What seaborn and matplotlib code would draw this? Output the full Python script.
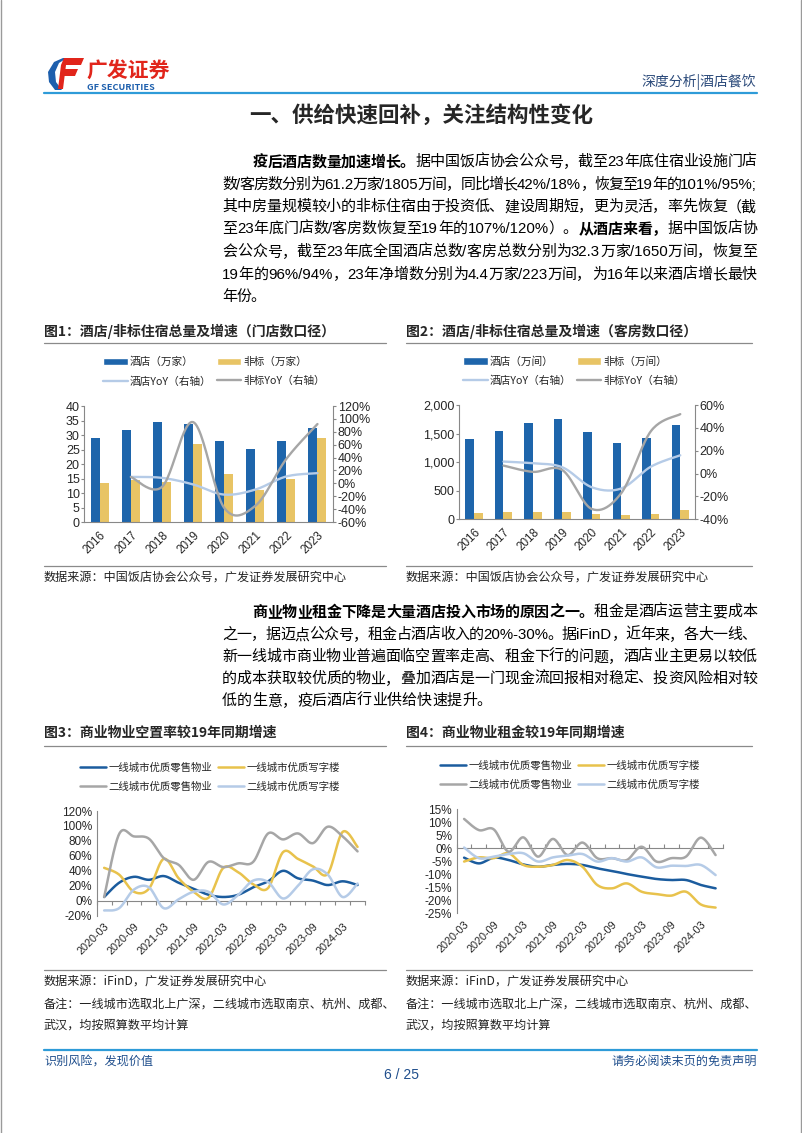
import numpy as np
import pandas as pd
import matplotlib
matplotlib.use('Agg')
import matplotlib.pyplot as plt
import seaborn as sns
from matplotlib.patches import Patch, Polygon
from matplotlib.lines import Line2D
from matplotlib.ticker import FuncFormatter
from matplotlib.font_manager import findfont, get_font, FontProperties, fontManager

# ---------------- data ----------------
years = ['2016', '2017', '2018', '2019', '2020', '2021', '2022', '2023']
hotel_stores = [28.8, 31.7, 34.4, 33.8, 27.9, 25.2, 27.9, 32.3]
nonstd_stores = [13.3, 14.6, 13.8, 26.9, 16.7, 10.9, 15.0, 28.8]
hotel_store_yoy = [np.nan, 10.0, 8.5, -1.7, -17.5, -9.7, 10.7, 15.8]
nonstd_store_yoy = [np.nan, 9.8, -5.5, 95.0, -38.0, -35.0, 38.0, 92.0]

hotel_rooms = [1400, 1540, 1680, 1750, 1530, 1340, 1420, 1650]
nonstd_rooms = [110, 120, 125, 125, 85, 70, 100, 155]
hotel_room_yoy = [np.nan, 10.5, 9.0, 5.5, -12.0, -13.0, 6.0, 16.0]
nonstd_room_yoy = [np.nan, 7.0, 1.5, 3.0, -31.0, -17.0, 37.0, 52.0]

quarters = ['2020-03', '2020-06', '2020-09', '2020-12', '2021-03', '2021-06', '2021-09', '2021-12',
            '2022-03', '2022-06', '2022-09', '2022-12', '2023-03', '2023-06', '2023-09', '2023-12',
            '2024-03', '2024-06']
series_names = ['一线城市优质零售物业', '一线城市优质写字楼', '二线城市优质零售物业', '二线城市优质写字楼']

t1_retail_vacancy = [5, 24, 32, 28, 33, 24, 16, 8, 5, 8, 18, 26, 40, 30, 27, 21, 26, 21]
t1_office_vacancy = [44, 35, 12, 16, 56, 30, 12, 4, 44, 38, 22, 17, 65, 56, 46, 36, 92, 72]
t2_retail_vacancy = [5, 89, 86, 83, 57, 48, 28, 52, 45, 50, 52, 90, 82, 90, 77, 99, 86, 66]
t2_office_vacancy = [-13, -10, 15, 18, -10, 2, 12, 12, -5, 8, 27, 25, 3, 20, 42, 35, 5, 23]

t1_retail_rent = [-3.6, -5.8, -3.6, -4.5, -6.2, -7.1, -6.4, -6.0, -6.4, -7.7, -8.7, -9.9, -10.9, -11.8, -12.2, -12.2, -14.1, -15.4]
t1_office_rent = [-5.1, -3.5, -3.8, -1.9, -6.4, -7.1, -6.4, -4.5, -7.1, -14.1, -15.4, -13.5, -16.7, -17.6, -18.2, -16.7, -21.6, -22.8]
t2_retail_rent = [11.3, 7.0, 7.3, -1.3, 4.2, -3.2, 3.6, -2.6, 2.2, -3.8, -3.8, -4.5, 0.6, -5.1, -3.8, -3.2, 4.1, -2.6]
t2_office_rent = [0.3, -3.8, -3.2, -2.2, -1.9, -5.1, -3.5, -2.8, -2.2, -5.1, -3.8, -5.1, -3.5, -7.3, -6.7, -6.8, -6.4, -10.3]

# ---------------- style ----------------
sns.set_theme(style='white')
CJK = ['Noto Sans CJK SC', 'DejaVu Sans']
plt.rcParams['font.family'] = CJK
plt.rcParams['axes.unicode_minus'] = False

_names = {f.name for f in fontManager.ttflist}
NARROW = 'Liberation Sans Narrow' if 'Liberation Sans Narrow' in _names else 'Liberation Sans'
NUMF = 'Liberation Sans'

BLUE = '#1E65AB'
YELLOW = '#E8C465'
LBLUE = '#B5CBE7'
GRAY = '#A6A6A6'
DBLUE = '#1B5C9E'
LYEL = '#E8C24C'
AXC = '#888888'

W, H = 802, 1133
fig = plt.figure(figsize=(W / 100, H / 100), dpi=100)
bg = fig.add_axes([0, 0, 1, 1])
bg.set_xlim(0, W)
bg.set_ylim(H, 0)
bg.axis('off')


def add_ax(x0, y0, x1, y1):
    return fig.add_axes([x0 / W, 1 - y1 / H, (x1 - x0) / W, (y1 - y0) / H])


OPEN = '（“《'
CLOSE = '，。、；：）”》！？'


def tokenize(s):
    toks = []
    i = 0
    pending = ''
    while i < len(s):
        ch = s[i]
        if ord(ch) < 128:
            j = i
            while j < len(s) and ord(s[j]) < 128:
                j += 1
            if pending:
                toks.append([pending, False])
                pending = ''
            toks.append([s[i:j], True])
            i = j
            continue
        if ch in OPEN:
            pending += ch
        elif ch in CLOSE and toks and not toks[-1][1] and not pending:
            toks[-1][0] += ch
        else:
            toks.append([pending + ch, False])
            pending = ''
        i += 1
    if pending:
        toks.append([pending, False])
    return toks


def advance(s, family, size, bold):
    try:
        path = findfont(FontProperties(family=family, weight='bold' if bold else 'normal'))
        f = get_font(path)
        f.set_size(size, 100)
        return sum(f.load_char(ord(c)).linearHoriAdvance for c in s) / 65536.0
    except Exception:
        em = size * 100 / 72.0
        return sum(em if ord(c) > 127 else 0.5 * em for c in s)


def para_line(x0, x1, y, segs, size, justify=True):
    items = []
    for s, bold in segs:
        for tok, is_ascii in tokenize(s):
            fam = [NARROW] if is_ascii else CJK
            fam0 = NARROW if is_ascii else 'Noto Sans CJK SC'
            items.append((tok, fam, bold, advance(tok, fam0, size, bold)))
    total = sum(it[3] for it in items)
    gap = (x1 - x0 - total) / (len(items) - 1) if (justify and len(items) > 1) else 0.0
    x = x0
    for tok, fam, bold, adv in items:
        bg.text(x, y, tok, fontsize=size, fontweight='bold' if bold else 'normal',
                family=fam, ha='left', va='center', color='black')
        x += adv + gap


def smooth(x, y, n=24):
    x = np.asarray(x, float)
    y = np.asarray(y, float)
    m = ~np.isnan(y)
    P = np.column_stack([x[m], y[m]])
    out = []
    for i in range(len(P) - 1):
        p0 = P[i - 1] if i > 0 else P[i]
        p1, p2 = P[i], P[i + 1]
        p3 = P[i + 2] if i + 2 < len(P) else P[i + 1]
        c1 = p1 + (p2 - p0) / 6.0
        c2 = p2 - (p3 - p1) / 6.0
        t = np.linspace(0, 1, n, endpoint=(i == len(P) - 2))[:, None]
        out.append((1 - t) ** 3 * p1 + 3 * (1 - t) ** 2 * t * c1 + 3 * (1 - t) * t ** 2 * c2 + t ** 3 * p2)
    return np.vstack(out)


pct = FuncFormatter(lambda v, p: f'{v:.0f}%')

# ---------------- page header ----------------
bg.plot([0.5, 0.5], [0, H], color='#9A9A9A', lw=1)
bg.plot([W - 0.8, W - 0.8], [0, H], color='#9A9A9A', lw=1)
bg.add_patch(Polygon([(63, 58), (54, 62), (48, 72), (49, 82), (55, 90), (62, 90), (56, 82), (55, 72), (59, 63), (67, 58)],
                     closed=True, color='#1D5FAD', lw=0))
bg.add_patch(Polygon([(64, 58), (84, 58), (81, 65), (61, 65)], closed=True, color='#E1251B', lw=0))
bg.add_patch(Polygon([(62, 69), (78, 69), (75, 76), (60, 76)], closed=True, color='#E1251B', lw=0))
bg.add_patch(Polygon([(61, 65), (66, 65), (63, 89), (58, 89)], closed=True, color='#E1251B', lw=0))
bg.text(86, 71, '广发证券', fontsize=15, fontweight='bold', color='#E1251B', ha='left', va='center', family=CJK)
bg.text(87, 87.5, 'GF SECURITIES', fontsize=6.6, fontweight='bold', color='#1D5FAD', ha='left', va='center', family=CJK)
bg.text(756, 82, '深度分析|酒店餐饮', fontsize=10, color='#2B4A7A', ha='right', va='center', family=CJK)
bg.plot([44, 757], [92.5, 92.5], color='#2E9BD8', lw=1.6)

bg.text(421, 115, '一、供给快速回补，关注结构性变化', fontsize=15.5, fontweight='bold',
        ha='center', va='center', family=CJK)

# ---------------- paragraphs ----------------
PS = 10.8
RIGHT = 757
para1 = [
    (252.5, 162, [('疫后酒店数量加速增长。', True), ('据中国饭店协会公众号，截至23年底住宿业设施门店', False)], True),
    (222, 185, [('数/客房数分别为61.2万家/1805万间，同比增长42%/18%，恢复至19年的101%/95%;', False)], True),
    (222, 207, [('其中房量规模较小的非标住宿由于投资低、建设周期短，更为灵活，率先恢复（截', False)], True),
    (222, 229, [('至23年底门店数/客房数恢复至19年的107%/120%）。', False), ('从酒店来看，', True), ('据中国饭店协', False)], True),
    (222, 252, [('会公众号，截至23年底全国酒店总数/客房总数分别为32.3万家/1650万间，恢复至', False)], True),
    (222, 275, [('19年的96%/94%，23年净增数分别为4.4万家/223万间，为16年以来酒店增长最快', False)], True),
    (222, 297, [('年份。', False)], False),
]
para2 = [
    (252.5, 612, [('商业物业租金下降是大量酒店投入市场的原因之一。', True), ('租金是酒店运营主要成本', False)], True),
    (222, 635, [('之一，据迈点公众号，租金占酒店收入的20%-30%。据iFinD，近年来，各大一线、', False)], True),
    (222, 657, [('新一线城市商业物业普遍面临空置率走高、租金下行的问题，酒店业主更易以较低', False)], True),
    (222, 679, [('的成本获取较优质的物业，叠加酒店是一门现金流回报相对稳定、投资风险相对较', False)], True),
    (222, 701, [('低的生意，疫后酒店行业供给快速提升。', False)], False),
]
for x, y, segs, just in para1 + para2:
    para_line(x, RIGHT, y, segs, PS, justify=just)

# ---------------- chart titles / rules ----------------
TS = 10
bg.text(44, 331, '图1：酒店/非标住宿总量及增速（门店数口径）', fontsize=TS, fontweight='bold', va='center', family=CJK)
bg.text(406, 331, '图2：酒店/非标住宿总量及增速（客房数口径）', fontsize=TS, fontweight='bold', va='center', family=CJK)
bg.text(44, 733, '图3：商业物业空置率较19年同期增速', fontsize=TS, fontweight='bold', va='center', family=CJK)
bg.text(406, 733, '图4：商业物业租金较19年同期增速', fontsize=TS, fontweight='bold', va='center', family=CJK)
for y in (342.5, 745.5, 566, 970):
    bg.plot([44, 386], [y, y], color='#8A8A8A', lw=0.9)
    bg.plot([406, 752], [y, y], color='#8A8A8A', lw=0.9)

SS = 8.7
bg.text(44, 577, '数据来源：中国饭店协会公众号，广发证券发展研究中心', fontsize=SS, va='center', family=CJK, color='#222222')
bg.text(406, 577, '数据来源：中国饭店协会公众号，广发证券发展研究中心', fontsize=SS, va='center', family=CJK, color='#222222')
for x0 in (44, 406):
    bg.text(x0, 981, '数据来源：iFinD，广发证券发展研究中心', fontsize=SS, va='center', family=CJK, color='#222222')
    bg.text(x0, 1004, '备注：一线城市选取北上广深，二线城市选取南京、杭州、成都、', fontsize=SS, va='center', family=CJK, color='#222222')
    bg.text(x0, 1025, '武汉，均按照算数平均计算', fontsize=SS, va='center', family=CJK, color='#222222')

# ---------------- footer ----------------
bg.plot([44, 757], [1050, 1050], color='#2E9BD8', lw=1.6)
bg.text(44, 1061, '识别风险，发现价值', fontsize=8.7, color='#1F4E8C', va='center', family=CJK)
bg.text(757, 1061, '请务必阅读末页的免责声明', fontsize=8.7, color='#1F4E8C', va='center', ha='right', family=CJK)
bg.text(401, 1075, '6 / 25', fontsize=10, color='#1F4E8C', va='center', ha='center', family=NUMF)

TICK = 9.0


# ---------------- bar + line charts ----------------
def dual_chart(rect, bars_a, bars_b, yoy_a, yoy_b, names, ylim, ystep, yfmt, y2lim, y2step, leg_xy):
    ax = add_ax(*rect)
    df = pd.DataFrame({'年份': years * 2,
                       '系列': [names[0]] * 8 + [names[1]] * 8,
                       '数值': list(bars_a) + list(bars_b)})
    sns.barplot(data=df, x='年份', y='数值', hue='系列', hue_order=names[:2],
                palette=[BLUE, YELLOW], width=0.58, saturation=1, linewidth=0,
                legend=False, ax=ax)
    axb = ax.twinx()
    for vals, col in ((yoy_a, LBLUE), (yoy_b, GRAY)):
        pts = smooth(np.arange(8), vals)
        sns.lineplot(x=pts[:, 0], y=pts[:, 1], ax=axb, color=col, lw=1.7, sort=False, estimator=None)
    ax.set_xlim(-0.5, 7.5)
    axb.set_xlim(-0.5, 7.5)
    ax.set_ylim(*ylim)
    ax.set_yticks(np.arange(ylim[0], ylim[1] + 1e-9, ystep))
    ax.yaxis.set_major_formatter(FuncFormatter(yfmt))
    axb.set_ylim(*y2lim)
    axb.set_yticks(np.arange(y2lim[0], y2lim[1] + 1e-9, y2step))
    axb.yaxis.set_major_formatter(pct)
    ax.set_xticks(range(8))
    ax.set_xticklabels(years, rotation=45, ha='right', rotation_mode='anchor')
    ax.set_xticks(np.arange(-0.5, 8, 1), minor=True)
    ax.tick_params(axis='x', which='major', length=0, pad=5, labelsize=8.4, labelfontfamily=NUMF)
    ax.tick_params(axis='x', which='minor', length=3, color=AXC, direction='out', width=0.8)
    ax.tick_params(axis='y', length=2.5, color=AXC, direction='out', width=0.8, labelsize=TICK, pad=0.8, labelfontfamily=NUMF)
    axb.tick_params(axis='y', length=2.5, color=AXC, direction='out', width=0.8, labelsize=TICK, pad=0.8, labelfontfamily=NUMF)
    for a in (ax, axb):
        a.set_xlabel('')
        a.set_ylabel('')
        a.spines['top'].set_visible(False)
        for s in ('left', 'right', 'bottom'):
            a.spines[s].set_color(AXC)
            a.spines[s].set_linewidth(0.8)
    ax.spines['right'].set_visible(False)
    axb.spines['left'].set_visible(False)
    axb.spines['bottom'].set_visible(False)
    handles = [Patch(facecolor=BLUE), Patch(facecolor=YELLOW),
               Line2D([], [], color=LBLUE, lw=1.7), Line2D([], [], color=GRAY, lw=1.7)]
    fig.legend([handles[0], handles[2], handles[1], handles[3]],
               [names[0], names[2], names[1], names[3]], ncol=2,
               loc='upper left', bbox_to_anchor=(leg_xy[0] / W, 1 - leg_xy[1] / H),
               frameon=False, borderpad=0, borderaxespad=0, handlelength=2.3,
               handleheight=0.7, handletextpad=0.2, columnspacing=0.5, labelspacing=0.83,
               prop={'family': CJK, 'size': 7.7})
    return ax, axb


dual_chart((84.3, 406, 333, 522), hotel_stores, nonstd_stores, hotel_store_yoy, nonstd_store_yoy,
           ['酒店（万家）', '非标（万家）', '酒店YoY（右轴）', '非标YoY（右轴）'],
           (0, 40), 5, lambda v, p: f'{v:.0f}', (-60, 120), 20, (103, 356.5))
dual_chart((459.3, 405, 695, 519.3), hotel_rooms, nonstd_rooms, hotel_room_yoy, nonstd_room_yoy,
           ['酒店（万间）', '非标（万间）', '酒店YoY（右轴）', '非标YoY（右轴）'],
           (0, 2000), 500, lambda v, p: f'{v:,.0f}', (-40, 60), 20, (463, 356))


# ---------------- line charts ----------------
def line_chart(rect, data, ylim, ystep, leg_xy):
    ax = add_ax(*rect)
    cols = [DBLUE, LYEL, GRAY, LBLUE]
    x = np.arange(len(quarters))
    for vals, col in zip(data, cols):
        pts = smooth(x, vals)
        sns.lineplot(x=pts[:, 0], y=pts[:, 1], ax=ax, color=col, lw=1.8, sort=False, estimator=None)
    ax.set_xlim(-0.5, len(quarters) - 0.5)
    ax.set_ylim(*ylim)
    ax.set_yticks(np.arange(ylim[0], ylim[1] + 1e-9, ystep))
    ax.yaxis.set_major_formatter(pct)
    ax.set_xticks(range(0, len(quarters), 2))
    ax.set_xticklabels(quarters[::2], rotation=45, ha='right', rotation_mode='anchor')
    ax.tick_params(axis='x', length=0, pad=4, labelsize=7.8, labelfontfamily=NUMF)
    ax.tick_params(axis='y', length=2.5, color=AXC, direction='out', width=0.8, labelsize=8.5, pad=0.8, labelfontfamily=NUMF)
    for s in ('top', 'right', 'bottom'):
        ax.spines[s].set_visible(False)
    ax.spines['left'].set_color(AXC)
    ax.spines['left'].set_linewidth(0.8)
    ax.set_xlabel('')
    ax.set_ylabel('')
    frac = (0 - ylim[0]) / (ylim[1] - ylim[0])
    sec = ax.secondary_xaxis(frac)
    sec.set_xticks(np.arange(-0.5, len(quarters), 1))
    sec.tick_params(length=3, color=AXC, direction='out', width=0.8, labelbottom=False, labeltop=False)
    for s in sec.spines.values():
        s.set_color(AXC)
        s.set_linewidth(0.8)
    handles = [Line2D([], [], color=c, lw=1.8) for c in cols]
    fig.legend([handles[0], handles[2], handles[1], handles[3]],
               [series_names[0], series_names[2], series_names[1], series_names[3]], ncol=2,
               loc='upper left', bbox_to_anchor=(leg_xy[0] / W, 1 - leg_xy[1] / H),
               frameon=False, borderpad=0, borderaxespad=0, handlelength=2.5,
               handletextpad=0.2, columnspacing=0.6, labelspacing=0.79,
               prop={'family': CJK, 'size': 7.5})
    return ax


line_chart((96.7, 811, 365, 915.7),
           [t1_retail_vacancy, t1_office_vacancy, t2_retail_vacancy, t2_office_vacancy],
           (-20, 120), 20, (80, 762.5))
line_chart((456.7, 809.3, 723, 913.3),
           [t1_retail_rent, t1_office_rent, t2_retail_rent, t2_office_rent],
           (-25, 15), 5, (440, 760.5))

fig.savefig('out.png', dpi=100)
